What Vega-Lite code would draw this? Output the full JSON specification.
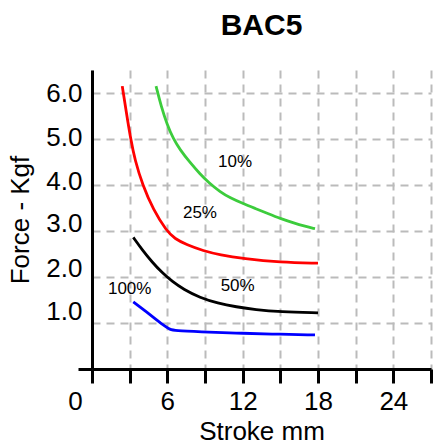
{
  "$schema": "https://vega.github.io/schema/vega-lite/v6.json",
  "width": 339,
  "height": 299,
  "autosize": {"type": "none"},
  "padding": {"left": 92, "top": 70, "right": 2, "bottom": 76},
  "background": "white",
  "config": {"view": {"stroke": null}, "font": "Liberation Sans"},
  "title": {"text": "BAC5", "fontSize": 30, "fontWeight": "bold", "font": "Liberation Sans", "anchor": "middle", "offset": 29, "color": "black"},
  "datasets": {
    "curves": [
      {"series": "10%", "stroke": 5.1, "force": 6.15},
      {"series": "10%", "stroke": 5.5, "force": 5.72},
      {"series": "10%", "stroke": 6.0, "force": 5.3},
      {"series": "10%", "stroke": 6.47, "force": 5.01},
      {"series": "10%", "stroke": 7.0, "force": 4.77},
      {"series": "10%", "stroke": 7.8, "force": 4.49},
      {"series": "10%", "stroke": 8.6, "force": 4.24},
      {"series": "10%", "stroke": 9.3, "force": 4.05},
      {"series": "10%", "stroke": 10.2, "force": 3.85},
      {"series": "10%", "stroke": 11.0, "force": 3.72},
      {"series": "10%", "stroke": 12.0, "force": 3.6},
      {"series": "10%", "stroke": 13.0, "force": 3.49},
      {"series": "10%", "stroke": 14.0, "force": 3.38},
      {"series": "10%", "stroke": 15.0, "force": 3.27},
      {"series": "10%", "stroke": 16.0, "force": 3.18},
      {"series": "10%", "stroke": 17.0, "force": 3.1},
      {"series": "10%", "stroke": 17.76, "force": 3.05},
      {"series": "25%", "stroke": 2.41, "force": 6.15},
      {"series": "25%", "stroke": 2.75, "force": 5.55},
      {"series": "25%", "stroke": 3.08, "force": 5.0},
      {"series": "25%", "stroke": 3.42, "force": 4.54},
      {"series": "25%", "stroke": 4.03, "force": 4.0},
      {"series": "25%", "stroke": 4.88, "force": 3.46},
      {"series": "25%", "stroke": 5.94, "force": 3.0},
      {"series": "25%", "stroke": 6.6, "force": 2.83},
      {"series": "25%", "stroke": 7.54, "force": 2.7},
      {"series": "25%", "stroke": 8.86, "force": 2.57},
      {"series": "25%", "stroke": 10.2, "force": 2.48},
      {"series": "25%", "stroke": 12.05, "force": 2.4},
      {"series": "25%", "stroke": 15.0, "force": 2.32},
      {"series": "25%", "stroke": 18.0, "force": 2.3},
      {"series": "50%", "stroke": 3.29, "force": 2.86},
      {"series": "50%", "stroke": 4.0, "force": 2.59},
      {"series": "50%", "stroke": 4.8, "force": 2.32},
      {"series": "50%", "stroke": 5.6, "force": 2.09},
      {"series": "50%", "stroke": 6.4, "force": 1.9},
      {"series": "50%", "stroke": 7.3, "force": 1.73},
      {"series": "50%", "stroke": 8.6, "force": 1.55},
      {"series": "50%", "stroke": 10.0, "force": 1.43},
      {"series": "50%", "stroke": 11.5, "force": 1.35},
      {"series": "50%", "stroke": 13.0, "force": 1.29},
      {"series": "50%", "stroke": 15.0, "force": 1.245},
      {"series": "50%", "stroke": 18.0, "force": 1.22},
      {"series": "100%", "stroke": 3.29, "force": 1.46},
      {"series": "100%", "stroke": 4.2, "force": 1.27},
      {"series": "100%", "stroke": 5.14, "force": 1.07},
      {"series": "100%", "stroke": 5.8, "force": 0.93},
      {"series": "100%", "stroke": 6.2, "force": 0.86},
      {"series": "100%", "stroke": 6.6, "force": 0.835},
      {"series": "100%", "stroke": 8.6, "force": 0.81},
      {"series": "100%", "stroke": 11.5, "force": 0.78},
      {"series": "100%", "stroke": 14.2, "force": 0.76},
      {"series": "100%", "stroke": 17.76, "force": 0.74}
    ],
    "labels": [
      {"label": "10%", "stroke": 11.4, "force": 4.5},
      {"label": "25%", "stroke": 8.6, "force": 3.39},
      {"label": "50%", "stroke": 11.6, "force": 1.8},
      {"label": "100%", "stroke": 3.0, "force": 1.74}
    ]
  },
  "layer": [
    {
      "data": {"name": "curves"},
      "mark": {"type": "line", "strokeWidth": 2.8, "interpolate": "basis"},
      "encoding": {
        "x": {
          "field": "stroke", "type": "quantitative",
          "scale": {"domain": [0, 27], "nice": false, "zero": false},
          "axis": {
            "title": "Stroke mm",
            "values": [0, 3, 6, 9, 12, 15, 18, 21, 24, 27],
            "tickCount": 30,
            "labelExpr": "datum.value % 6 == 0 && datum.value < 27 ? datum.label : ''",
            "labelFlush": false,
            "labelFontSize": 26, "labelColor": "black", "labelFont": "Liberation Sans",
            "labelPadding": 5,
            "labelOffset": {"condition": {"test": "datum.value == 0", "value": -17}, "value": 0},
            "titleFontSize": 26, "titleFontWeight": "normal", "titleColor": "black", "titleFont": "Liberation Sans", "titlePadding": 4,
            "domainColor": "black", "domainWidth": 3,
            "tickColor": "black", "tickWidth": 3, "tickSize": 14,
            "grid": true, "gridColor": "#bbbbbb", "gridWidth": 2, "gridDash": [8, 6]
          }
        },
        "y": {
          "field": "force", "type": "quantitative",
          "scale": {"domain": [0, 6.5], "nice": false, "zero": false},
          "axis": {
            "title": "Force - Kgf",
            "values": [0, 1, 2, 3, 4, 5, 6],
            "tickCount": 30,
            "labelExpr": "datum.value == 0 ? '' : format(datum.value, '.1f')",
            "labelFontSize": 26, "labelColor": "black", "labelFont": "Liberation Sans",
            "labelPadding": -4,
            "labelOffset": {"condition": [
              {"test": "datum.value == 5", "value": -2},
              {"test": "datum.value == 4", "value": -4},
              {"test": "datum.value == 3", "value": -8},
              {"test": "datum.value == 2", "value": -9},
              {"test": "datum.value == 1", "value": -12}
            ], "value": 0},
            "titleFontSize": 26, "titleFontWeight": "normal", "titleColor": "black", "titleFont": "Liberation Sans", "titlePadding": 12,
            "domainColor": "black", "domainWidth": 3,
            "tickColor": {"condition": {"test": "datum.value == 0", "value": "black"}, "value": "transparent"},
            "tickWidth": 3, "tickSize": 14,
            "grid": true, "gridColor": "#bbbbbb", "gridWidth": 2, "gridDash": [8, 6]
          }
        },
        "color": {
          "field": "series", "type": "nominal",
          "scale": {"domain": ["10%", "25%", "50%", "100%"], "range": ["#3ccc3c", "#ff0000", "#000000", "#0000ff"]},
          "legend": null
        }
      }
    },
    {
      "mark": {"type": "rect", "color": "white"},
      "encoding": {
        "x": {"datum": 16.3, "type": "quantitative", "scale": {"domain": [0, 27], "nice": false, "zero": false}},
        "x2": {"datum": 27.3},
        "y": {"datum": 4.91, "type": "quantitative", "scale": {"domain": [0, 6.5], "nice": false, "zero": false}},
        "y2": {"datum": 6.5}
      }
    },
    {
      "mark": {"type": "text", "text": ["STANDARD", "STROKE"], "fontSize": 21, "lineHeight": 21, "font": "Liberation Sans", "color": "black", "align": "center", "baseline": "middle"},
      "encoding": {
        "x": {"datum": 21.74, "type": "quantitative", "scale": {"domain": [0, 27], "nice": false, "zero": false}},
        "y": {"datum": 5.9, "type": "quantitative", "scale": {"domain": [0, 6.5], "nice": false, "zero": false}}
      }
    },
    {
      "data": {"name": "labels"},
      "mark": {"type": "text", "fontSize": 17, "font": "Liberation Sans", "color": "black", "align": "center", "baseline": "middle"},
      "encoding": {
        "x": {"field": "stroke", "type": "quantitative", "scale": {"domain": [0, 27], "nice": false, "zero": false}},
        "y": {"field": "force", "type": "quantitative", "scale": {"domain": [0, 6.5], "nice": false, "zero": false}},
        "text": {"field": "label"}
      }
    }
  ]
}
